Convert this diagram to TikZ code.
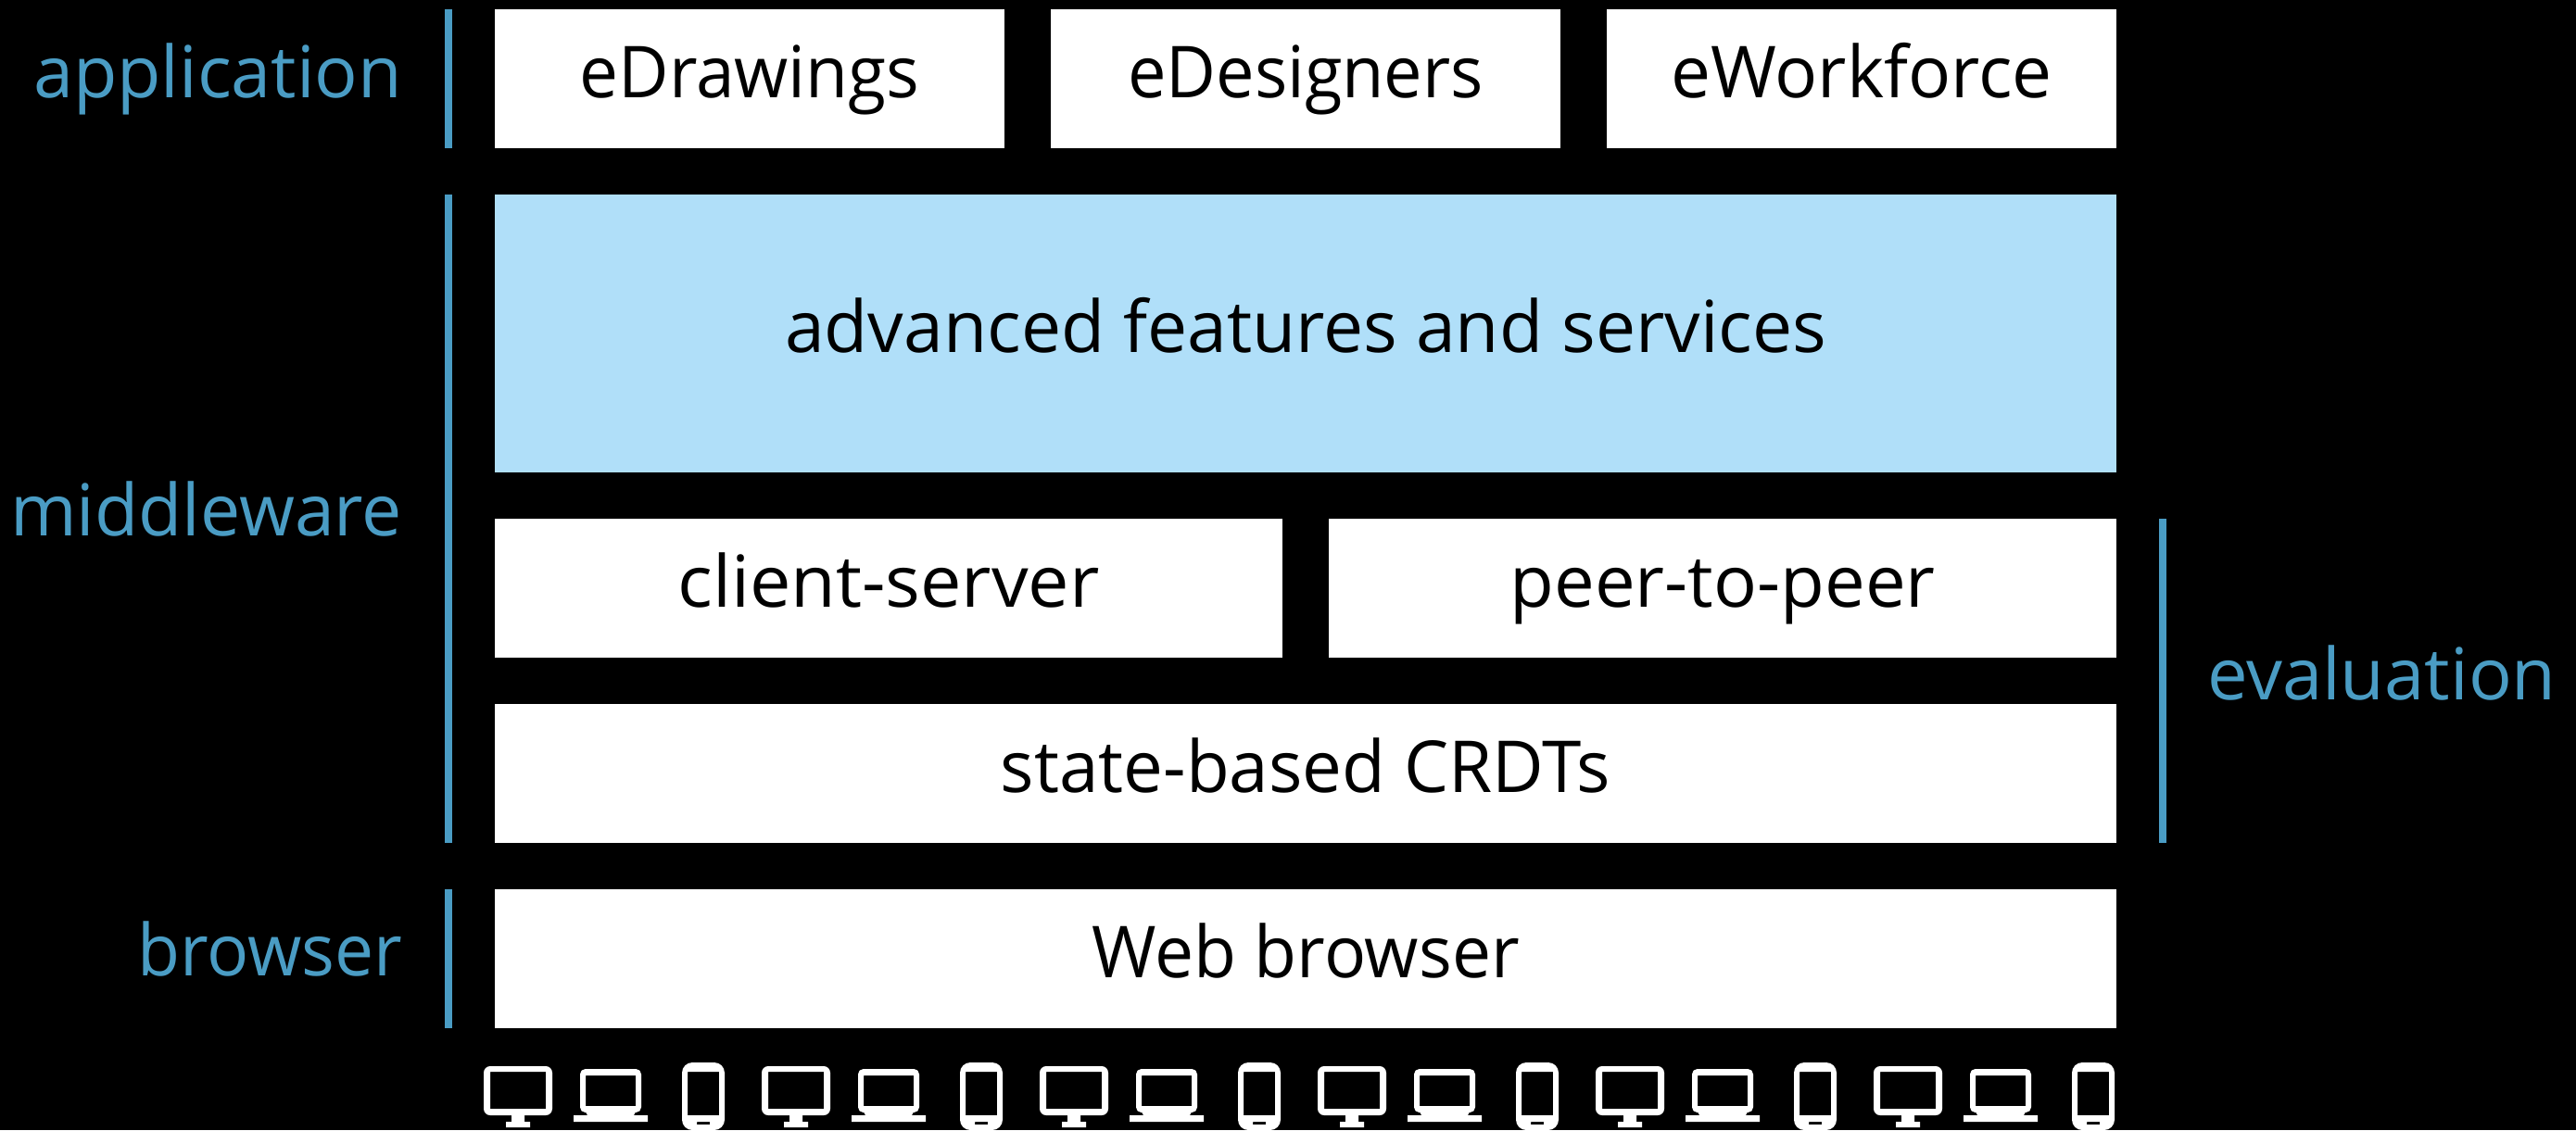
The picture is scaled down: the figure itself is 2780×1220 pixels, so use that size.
\documentclass[tikz,border=0pt]{standalone}
\usepackage{fontspec}
\setmainfont{Open Sans}
\definecolor{labelblue}{HTML}{4A9CC4}
\definecolor{panelblue}{HTML}{B0DFF9}
\tikzset{
  every node/.style={inner sep=0pt,outer sep=0pt},
  panel/.style={text=black,font=\fontsize{22}{26}\selectfont},
  layerlabel/.style={text=labelblue,font=\fontsize{22}{26}\selectfont,anchor=base east},
  bar/.style={fill=labelblue},
  icon/.style={fill=white,even odd rule},
}
\begin{document}
\begin{tikzpicture}[x=0.01cm,y=-0.01cm]
\useasboundingbox[fill=black] (0,0) rectangle (2780,1220);
% bars
\fill[bar] (480,10) rectangle (488,160);
\fill[bar] (480,210) rectangle (488,910);
\fill[bar] (480,960) rectangle (488,1110);
\fill[bar] (2330,560) rectangle (2338,910);
% panels
\newcommand{\panelbox}[8][white]{%
  \fill[#1] (#3,#4) rectangle (#5,#6);
  \node[panel] (#2) at ({(#3+#5)/2},{(#4+#6)/2+2}) {\strut\scalebox{#8}[1]{#7}};
}
\panelbox{edraw}{534}{10}{1084}{160}{eDrawings}{.967}
\panelbox{edes}{1134}{10}{1684}{160}{eDesigners}{.956}
\panelbox{ework}{1734}{10}{2284}{160}{eWorkforce}{.99}
\panelbox[panelblue]{adv}{534}{210}{2284}{510}{advanced features and services}{.994}
\panelbox{cs}{534}{560}{1384}{710}{client-server}{1.024}
\panelbox{pp}{1434}{560}{2284}{710}{peer-to-peer}{1.008}
\panelbox{crdt}{534}{760}{2284}{910}{state-based CRDTs}{.987}
\panelbox{web}{534}{960}{2284}{1110}{Web browser}{.97}
% labels
\node[layerlabel] (lapp) at (434,105) {application};
\node[layerlabel] (lmid) at (434,578) {\scalebox{.996}[1]{middleware}};
\node[layerlabel] (lbro) at (434,1053) {\scalebox{.97}[1]{browser}};
\node[layerlabel,anchor=base west] (leva) at (2382,755) {\scalebox{1.005}[1]{evaluation}};
% device icons
\foreach \k in {0,...,5}{
  \begin{scope}[xshift=\k*300*0.01cm]
    % desktop
    \fill[icon] [rounded corners=5\pgflinewidth] (522,1151) rectangle (596,1204)
      [sharp corners] (529,1157) rectangle (589,1197);
    \fill[icon] (552,1204) rectangle (566,1211) (546,1211) rectangle (572,1217);
    % laptop
    \fill[icon] [rounded corners=4\pgflinewidth] (626,1154) rectangle (692,1201)
      [sharp corners] (632,1161) rectangle (686,1194);
    \fill[icon] (632,1200) -- (686,1200) -- (684,1204) -- (699,1204) -- (699,1211) -- (619,1211) -- (619,1204) -- (634,1204) -- cycle;
    % phone
    \fill[icon] [rounded corners=8\pgflinewidth] (736,1147) rectangle (782,1220)
      [sharp corners] (742,1157) rectangle (776,1204)
      (752,1211) rectangle (766,1214);
  \end{scope}
}
\end{tikzpicture}
\end{document}
